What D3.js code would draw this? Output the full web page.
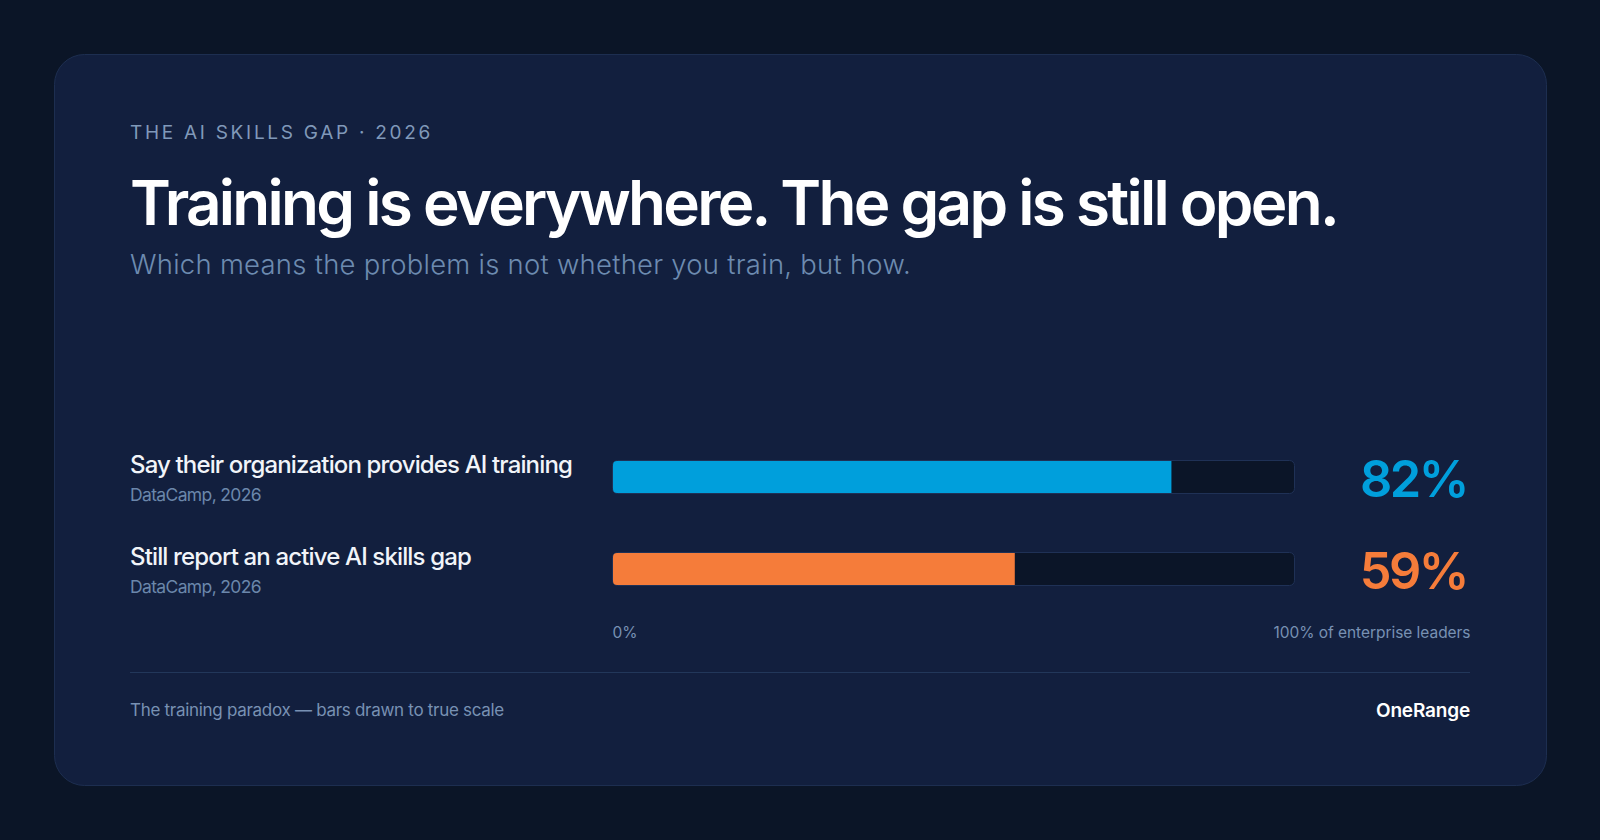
<!DOCTYPE html>
<html>
<head>
<meta charset="utf-8">
<script src="https://cdn.jsdelivr.net/npm/d3@7"></script>
<style>
  html, body { margin: 0; padding: 0; background: #0b1527; }
  svg { display: block; }
</style>
</head>
<body>
<svg id="chart" width="1600" height="840"></svg>
<script>
// ---------- data ----------
const eyebrow = "THE AI SKILLS GAP · 2026";
const title = "Training is everywhere. The gap is still open.";
const subtitle = "Which means the problem is not whether you train, but how.";
const categories = ["Say their organization provides AI training", "Still report an active AI skills gap"];
const sources = ["DataCamp, 2026", "DataCamp, 2026"];
const values = [82, 59];
const tickValues = [0, 100];
const tickLabels = ["0%", "100% of enterprise leaders"];
const footnote = "The training paradox — bars drawn to true scale";
const brand = "OneRange";

// ---------- style ----------
const seriesColors = ["#009fdc", "#f57c3a"];
const FONT = "Inter, 'DejaVu Sans', sans-serif";

const svg = d3.select("#chart");

// fit a text selection to a target width: letter-spacing first (clamped), then font size
function fit(sel, target, minLs = -0.04, maxLs = 0.25) {
  const node = sel.node();
  const n = sel.text().length;
  let fs = parseFloat(sel.attr("font-size"));
  sel.style("letter-spacing", "0px");
  let w = node.getComputedTextLength();
  let ls = (target - w) / n;
  ls = Math.max(minLs * fs, Math.min(maxLs * fs, ls));
  sel.style("letter-spacing", ls + "px");
  for (let i = 0; i < 3; i++) {
    w = node.getComputedTextLength();
    const k = target / w;
    fs *= k; ls *= k;
    sel.attr("font-size", fs).style("letter-spacing", ls + "px");
  }
  return { fs, ls };
}

// background + card
svg.append("rect").attr("width", 1600).attr("height", 840).attr("fill", "#0b1527");
svg.append("rect")
  .attr("x", 54.5).attr("y", 54.5).attr("width", 1492).attr("height", 731)
  .attr("rx", 30).attr("fill", "#121f3e").attr("stroke", "#1d2e50").attr("stroke-width", 1);

// header
const eb = svg.append("text").attr("x", 130).attr("y", 139)
  .attr("font-family", FONT).attr("font-size", 19).attr("font-weight", 400)
  .attr("fill", "#8099b9").text(eyebrow);
fit(eb, 303, -0.05, 0.4);

const tt = svg.append("text").attr("x", 130).attr("y", 225)
  .attr("font-family", FONT).attr("font-size", 62).attr("font-weight", 600)
  .attr("fill", "#ffffff").text(title);
fit(tt, 1207, -0.045);

const st = svg.append("text").attr("x", 130).attr("y", 274)
  .attr("font-family", FONT).attr("font-size", 27).attr("font-weight", 300)
  .attr("fill", "#6d8bb0").text(subtitle);
fit(st, 781, -0.02, 0.01);

// scales
const x = d3.scaleLinear().domain([0, 100]).range([613, 1294]);
const y = d3.scalePoint().domain(categories).range([477, 569]);
const barH = 32;

const rows = svg.append("g").selectAll("g.row")
  .data(categories.map((c, i) => ({ cat: c, src: sources[i], v: values[i], color: seriesColors[i] })))
  .join("g").attr("class", "row");

// labels
const labels = rows.append("text")
  .attr("x", 130).attr("y", d => y(d.cat) - 4)
  .attr("font-family", FONT).attr("font-size", 24).attr("font-weight", 500)
  .attr("fill", "#f1f4f9").text(d => d.cat);
const lf = fit(labels.filter((d, i) => i === 0), 442, -0.04);
labels.attr("font-size", lf.fs).style("letter-spacing", lf.ls + "px");

const srcs = rows.append("text")
  .attr("x", 130).attr("y", d => y(d.cat) + 24)
  .attr("font-family", FONT).attr("font-size", 17.5).attr("font-weight", 400)
  .attr("fill", "#6b87ab").text(d => d.src);
const sf = fit(srcs.filter((d, i) => i === 0), 131);
srcs.attr("font-size", sf.fs).style("letter-spacing", sf.ls + "px");

// tracks
rows.append("rect")
  .attr("x", x(0) - 0.5).attr("y", d => y(d.cat) - barH / 2 - 0.5)
  .attr("width", x(100) - x(0) + 1).attr("height", barH + 1)
  .attr("rx", 5).attr("fill", "#0b1528").attr("stroke", "#1f3156").attr("stroke-width", 1);

// fills (rounded left corners only)
rows.append("path")
  .attr("fill", d => d.color)
  .attr("d", d => {
    const x0 = x(0), x1 = x(d.v), y0 = y(d.cat) - barH / 2, y1 = y(d.cat) + barH / 2, r = 4;
    const p = d3.path();
    p.moveTo(x0 + r, y0);
    p.lineTo(x1, y0);
    p.lineTo(x1, y1);
    p.lineTo(x0 + r, y1);
    p.arcTo(x0, y1, x0, y1 - r, r);
    p.lineTo(x0, y0 + r);
    p.arcTo(x0, y0, x0 + r, y0, r);
    p.closePath();
    return p.toString();
  });

// values
const nums = rows.append("text")
  .attr("x", 1467).attr("y", d => y(d.cat) + 20)
  .attr("text-anchor", "end")
  .attr("font-family", FONT).attr("font-size", 52).attr("font-weight", 600)
  .attr("fill", d => d.color).text(d => d.v + "%");
const nf = fit(nums.filter((d, i) => i === 0), 107, -0.05);
nums.attr("font-size", nf.fs).style("letter-spacing", nf.ls + "px");

// axis
const axisG = svg.append("g").attr("transform", "translate(0,622)")
  .call(d3.axisBottom(x).tickValues(tickValues).tickFormat((d, i) => tickLabels[i]).tickSize(0).tickPadding(0));
axisG.select(".domain").remove();
axisG.selectAll(".tick text")
  .attr("font-family", FONT).attr("font-size", 15.5).attr("fill", "#7891b3")
  .attr("dy", "1em")
  .attr("text-anchor", (d, i) => i === 0 ? "start" : "end")
  .attr("x", (d, i) => i === 0 ? -1 : 176);
const lastTick = axisG.selectAll(".tick text").filter((d, i) => i === 1);
fit(lastTick, 197);

// divider
svg.append("line").attr("x1", 130).attr("x2", 1470).attr("y1", 672.5).attr("y2", 672.5)
  .attr("stroke", "#22375a").attr("stroke-width", 1.2);

// footer
const fn = svg.append("text").attr("x", 130).attr("y", 716)
  .attr("font-family", FONT).attr("font-size", 17).attr("font-weight", 400)
  .attr("fill", "#7891b3").text(footnote);
fit(fn, 374);

const br = svg.append("text").attr("x", 1470).attr("y", 717)
  .attr("text-anchor", "end")
  .attr("font-family", FONT).attr("font-size", 19).attr("font-weight", 600)
  .attr("fill", "#ffffff").text(brand);
fit(br, 94);
</script>
</body>
</html>
